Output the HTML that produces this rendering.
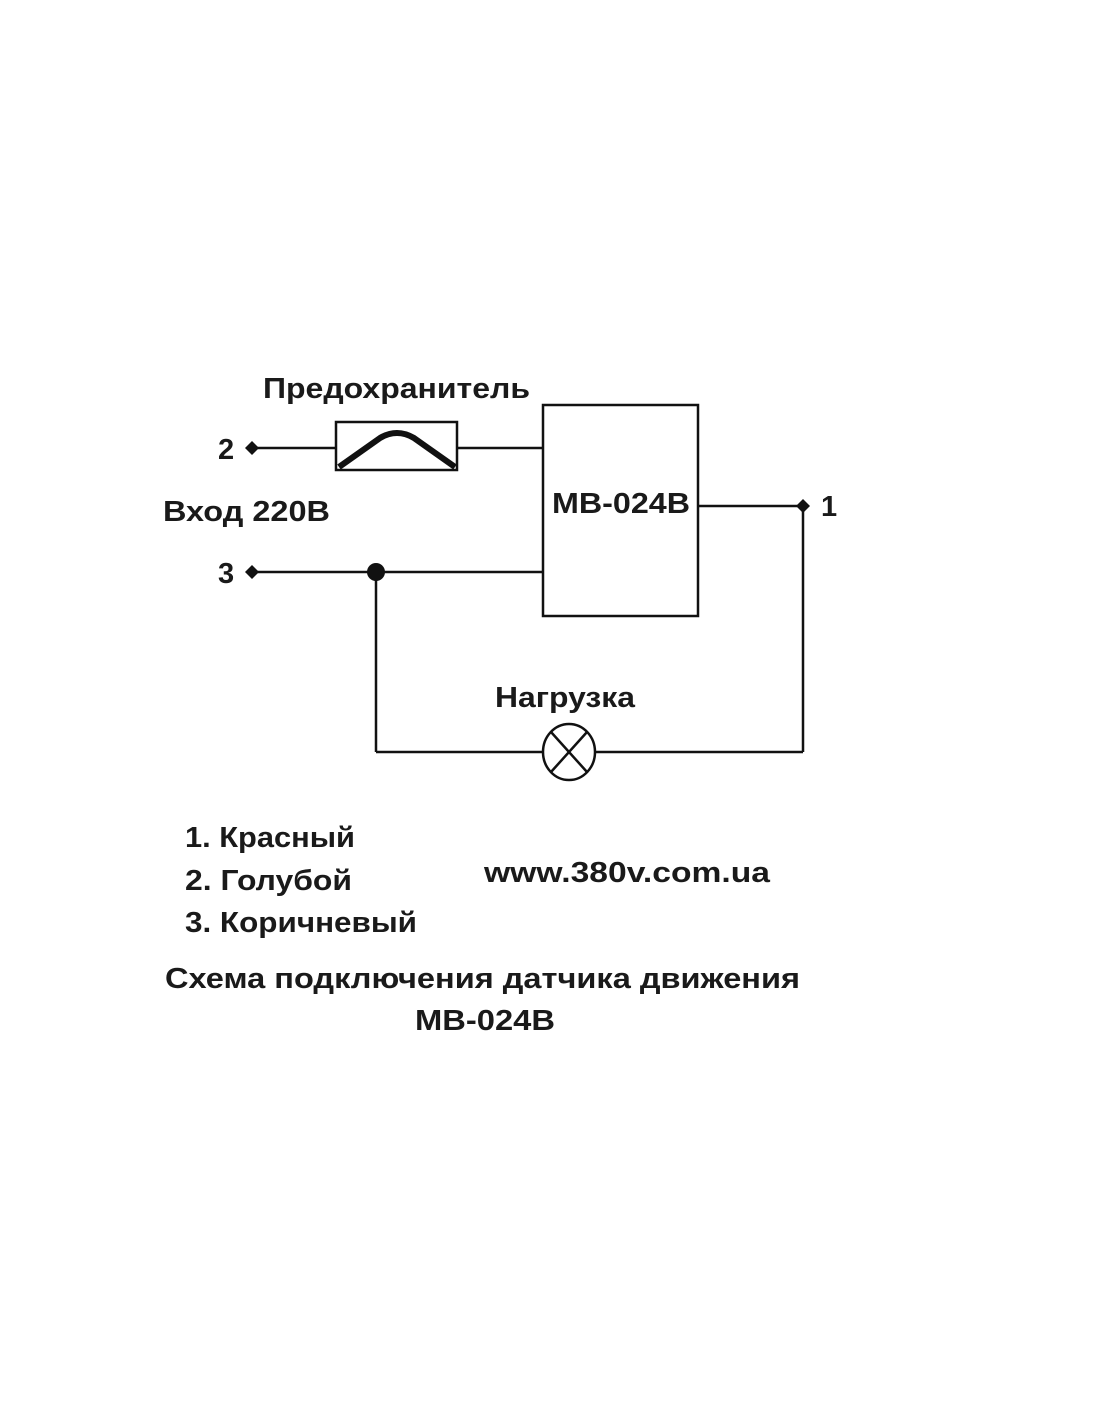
<!DOCTYPE html>
<html><head><meta charset="utf-8"><style>html,body{margin:0;padding:0;background:#fff}</style></head>
<body>
<svg width="1100" height="1422" viewBox="0 0 1100 1422" xmlns="http://www.w3.org/2000/svg" font-family="Liberation Sans, sans-serif" font-weight="bold" font-size="29" fill="#1a1a1a">
<g stroke="#111" stroke-width="2.5" fill="none">
<line x1="252" y1="448" x2="336" y2="448"/>
<rect x="336" y="422" width="121" height="48"/>
<line x1="457" y1="448" x2="543" y2="448"/>
<rect x="543" y="405" width="155" height="211"/>
<line x1="252" y1="572" x2="543" y2="572"/>
<line x1="698" y1="506" x2="803" y2="506"/>
<line x1="803" y1="506" x2="803" y2="752"/>
<line x1="376" y1="572" x2="376" y2="752"/>
<line x1="376" y1="752" x2="542" y2="752"/>
<line x1="596" y1="752" x2="803" y2="752"/>
<ellipse cx="569" cy="752" rx="26" ry="28"/>
<line x1="551" y1="732" x2="587" y2="772"/>
<line x1="587" y1="732" x2="551" y2="772"/>
<path d="M339 467 L380 438 Q397 428 414 438 L455 467" stroke-width="6"/>
</g>
<g fill="#111">
<path d="M252 441 L259 448 L252 455 L245 448Z"/>
<path d="M252 565 L259 572 L252 579 L245 572Z"/>
<path d="M803 499 L810 506 L803 513 L796 506Z"/>
<circle cx="376" cy="572" r="9"/>
</g>
<text x="263" y="398" textLength="267" lengthAdjust="spacingAndGlyphs">Предохранитель</text>
<text x="218" y="459">2</text>
<text x="218" y="583">3</text>
<text x="821" y="516">1</text>
<text x="163" y="521" textLength="167" lengthAdjust="spacingAndGlyphs">Вход 220В</text>
<text x="552" y="513" textLength="138" lengthAdjust="spacingAndGlyphs">MB-024B</text>
<text x="495" y="707" textLength="140" lengthAdjust="spacingAndGlyphs">Нагрузка</text>
<text x="185" y="847" textLength="170" lengthAdjust="spacingAndGlyphs">1. Красный</text>
<text x="185" y="890" textLength="167" lengthAdjust="spacingAndGlyphs">2. Голубой</text>
<text x="185" y="932" textLength="232" lengthAdjust="spacingAndGlyphs">3. Коричневый</text>
<text x="484" y="882" textLength="286" lengthAdjust="spacingAndGlyphs">www.380v.com.ua</text>
<text x="165" y="988" textLength="635" lengthAdjust="spacingAndGlyphs">Схема подключения датчика движения</text>
<text x="415" y="1030" textLength="140" lengthAdjust="spacingAndGlyphs">MB-024B</text>
</svg>
</body></html>
